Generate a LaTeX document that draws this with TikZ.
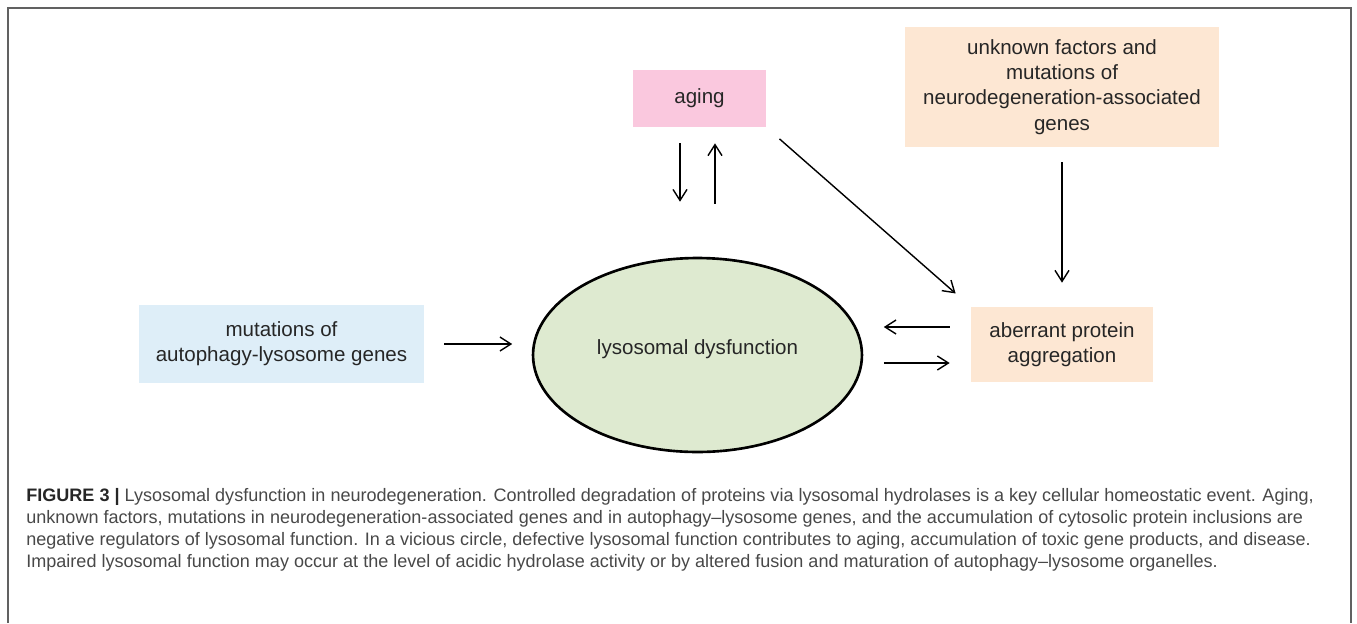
\documentclass[tikz,border=0pt]{standalone}
\usepackage{xcolor}
\usepackage{fontspec}
\setmainfont{Liberation Sans}
\usepackage{tikz}
\usetikzlibrary{shapes.geometric, arrows.meta, positioning}

\definecolor{agingpink}{RGB}{250,200,222}
\definecolor{factorpeach}{RGB}{253,231,211}
\definecolor{genesblue}{RGB}{222,238,248}
\definecolor{lysogreen}{RGB}{222,234,208}
\definecolor{labelgray}{RGB}{38,38,38}
\definecolor{captiongray}{RGB}{72,72,72}

\tikzstyle{factor} = [rectangle, text centered, align=center, inner sep=0pt, text=labelgray, font=\fontsize{11.7}{14.4}\selectfont]
\tikzstyle{agingbox} = [factor, minimum width=2.66cm, minimum height=1.14cm, fill=agingpink]
\tikzstyle{peachbox} = [factor, fill=factorpeach]
\tikzstyle{bluebox} = [factor, minimum width=5.7cm, minimum height=1.56cm, fill=genesblue]
\tikzstyle{dysfunction} = [ellipse, minimum width=6.58cm, minimum height=3.88cm, inner sep=0pt, draw=black, line width=1.5pt, fill=lysogreen, text=labelgray, font=\fontsize{11.7}{14.4}\selectfont]
\tikzstyle{arrow} = [line width=0.8pt, -{Straight Barb[length=2.2mm, width=2.8mm]}]

\begin{document}
\begin{tikzpicture}[x=0.02cm, y=-0.02cm]

\useasboundingbox (0,0) rectangle (1357,623);
\draw [black!62, line width=0.04cm] (8,623) -- (8,8) -- (1351,8) -- (1351,623);

\node (aging) [agingbox] at (699.5,98.5) {aging};
\node (unknown) [peachbox, minimum width=6.28cm, minimum height=2.4cm] at (1062,87) {unknown factors and\\mutations of\\neurodegeneration-associated\\genes};
\node (aggr) [peachbox, minimum width=3.64cm, minimum height=1.5cm] at (1062,344.5) {aberrant protein\\aggregation};
\node (genes) [bluebox] at (281.5,344) {mutations of\\autophagy-lysosome genes};
\node (lyso) [dysfunction] at (697.5,355) {\raisebox{0.3cm}{lysosomal dysfunction}};

\coordinate (agingdown) at ([xshift=-0.39cm]aging.south);
\coordinate (agingup) at ([xshift=0.31cm]aging.south);
\coordinate (aggrhi) at ([yshift=0.35cm]aggr.west);
\coordinate (aggrlo) at ([yshift=-0.37cm]aggr.west);

\draw [arrow, shorten <=0.32cm, shorten >=1.1cm] (agingdown) -- (agingdown |- lyso.north);
\draw [arrow, shorten <=1.06cm, shorten >=0.32cm] (agingup |- lyso.north) -- (agingup);
\draw [arrow, shorten <=0.35cm, shorten >=0.4cm] (aging.south east) -- (aggr.north west);
\draw [arrow, shorten <=0.3cm, shorten >=0.48cm] (unknown.south) -- (aggr.north);
\draw [arrow, shorten <=0.42cm, shorten >=0.41cm] (aggrhi) -- (aggrhi -| lyso.east);
\draw [arrow, shorten <=0.41cm, shorten >=0.42cm] (aggrlo -| lyso.east) -- (aggrlo);
\draw [arrow, shorten <=0.4cm, shorten >=0.39cm] (genes.east) -- (genes.east -| lyso.west);

\node (caption) [anchor=north west, align=left, inner sep=0pt, text=captiongray, font=\fontsize{10.27}{12.6}\selectfont] at (26,488) {{\color{black!85}\bfseries FIGURE 3 |} Lysosomal dysfunction in neurodegeneration. Controlled degradation of proteins via lysosomal hydrolases is a key cellular homeostatic event. Aging,\\
unknown factors, mutations in neurodegeneration-associated genes and in autophagy–lysosome genes, and the accumulation of cytosolic protein inclusions are\\
negative regulators of lysosomal function. In a vicious circle, defective lysosomal function contributes to aging, accumulation of toxic gene products, and disease.\\
Impaired lysosomal function may occur at the level of acidic hydrolase activity or by altered fusion and maturation of autophagy–lysosome organelles.};

\end{tikzpicture}
\end{document}
